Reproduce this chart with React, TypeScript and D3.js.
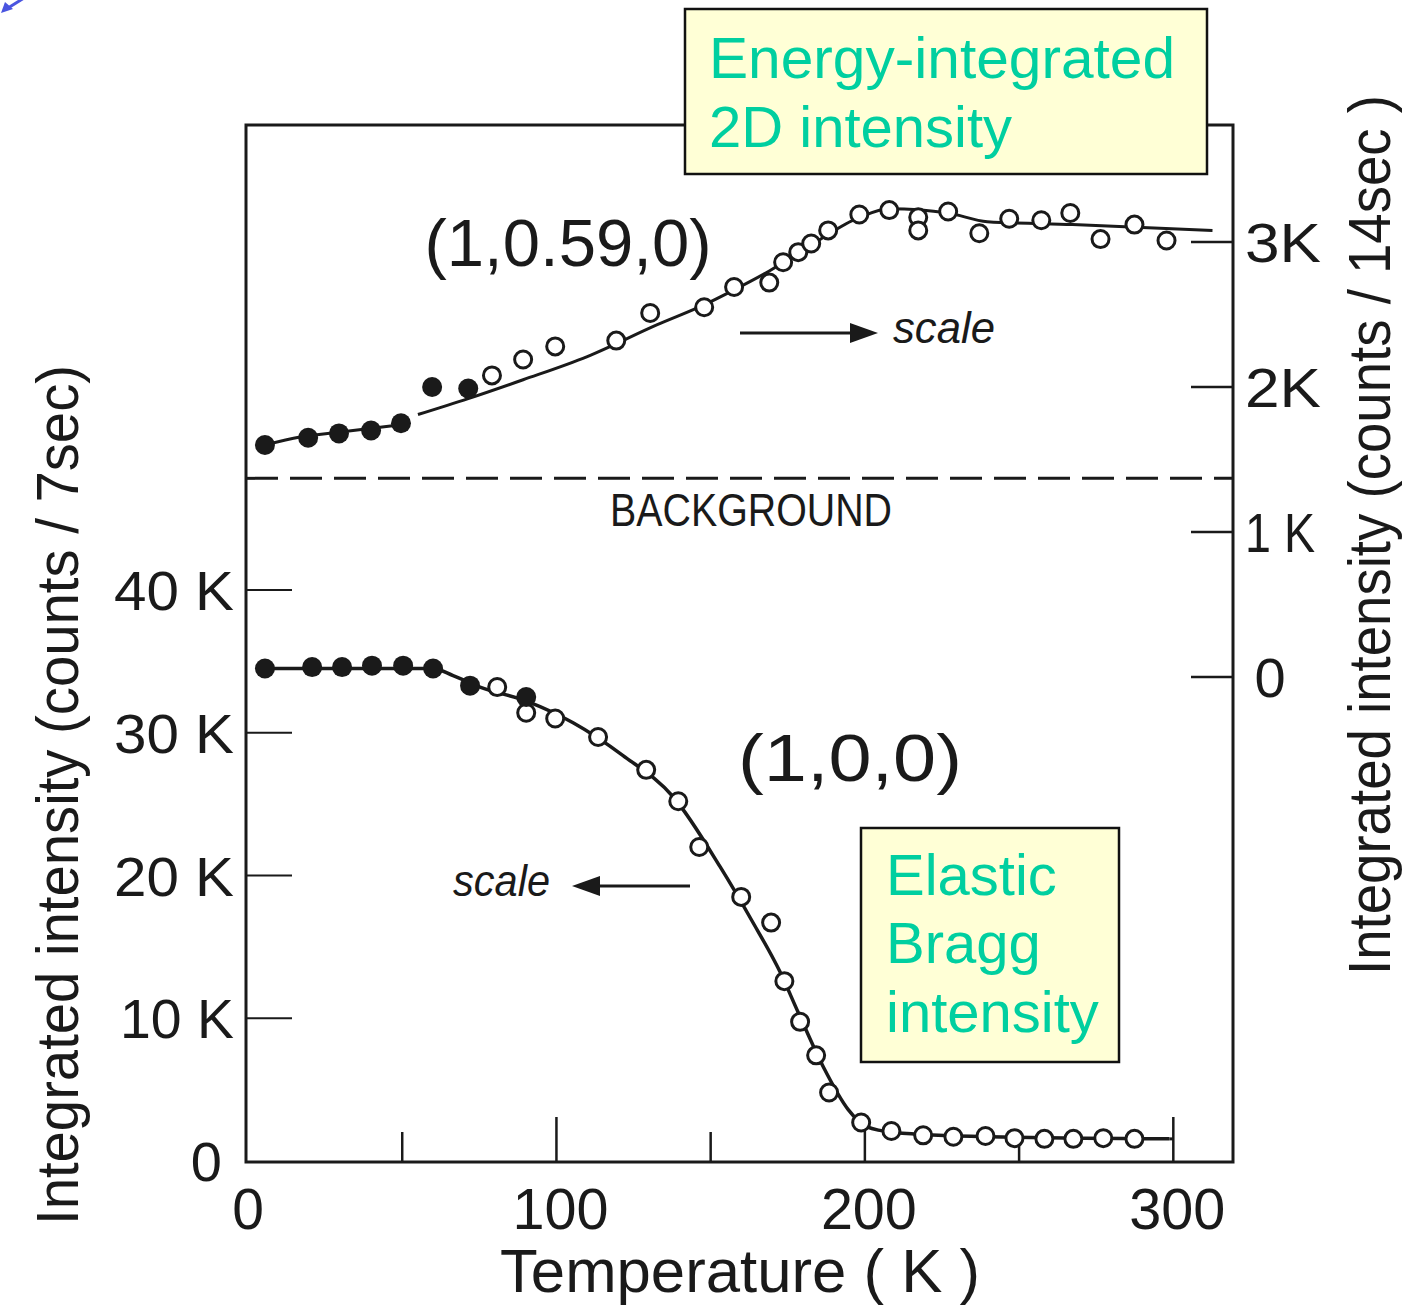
import React from "react";
import * as d3 from "d3";

// ---------- data ----------
// x axis: temperature (K)
const xLabelTicks = [0, 100, 200, 300];
const xMarkTicks = [50, 100, 150, 200, 250, 300];
// left axis: Bragg intensity, thousands of counts / 7 sec
const leftTicks = [0, 10, 20, 30, 40];
// right axis: 2D intensity, thousands of counts / 14 sec
const rightTicks = [0, 1, 2, 3];
const backgroundLevel = 1.37; // right-axis units

// (1,0.59,0) energy-integrated 2D intensity (right axis) [T, kcounts]
const upperFilled: [number, number][] = [
  [5.5, 1.6], [19.5, 1.65], [29.5, 1.68], [39.9, 1.7], [49.6, 1.75], [59.7, 2.0], [71.4, 1.99],
];
const upperOpen: [number, number][] = [
  [79.1, 2.08], [89.2, 2.19], [99.6, 2.28], [119.4, 2.32], [130.4, 2.51], [147.9, 2.55],
  [157.6, 2.69], [169, 2.72], [173.5, 2.86], [178.4, 2.93], [182.6, 2.99], [188.1, 3.08],
  [198.2, 3.19], [207.9, 3.22], [217.3, 3.17], [217.3, 3.08], [227, 3.21], [237.1, 3.06],
  [246.8, 3.16], [257.2, 3.15], [266.6, 3.2], [276.4, 3.02], [287.4, 3.12], [297.8, 3.01],
];
const upperFitLow: [number, number][] = [
  [5.5, 1.6], [16.9, 1.655], [30, 1.69], [49.6, 1.74],
];
const upperFitHigh: [number, number][] = [
  [55.1, 1.81], [71.4, 1.92], [89.2, 2.05], [110, 2.21], [132.7, 2.43], [148.2, 2.57],
  [157.6, 2.67], [169, 2.8], [182.6, 2.98], [198.2, 3.17], [208, 3.23], [227, 3.2],
  [239.7, 3.14], [267.3, 3.12], [312.7, 3.08],
];

// (1,0,0) elastic Bragg intensity (left axis) [T, kcounts]
const lowerFilled: [number, number][] = [
  [5.5, 34.5], [20.8, 34.6], [30.5, 34.6], [40.2, 34.7], [50.3, 34.7], [60.0, 34.5], [72.0, 33.3], [90.2, 32.5],
];
const lowerOpen: [number, number][] = [
  [80.8, 33.2], [90.2, 31.4], [99.6, 31.0], [113.5, 29.7], [129.1, 27.4], [139.5, 25.2],
  [146.3, 22.0], [159.9, 18.5], [169.6, 16.7], [173.9, 12.6], [179.0, 9.75], [184.2, 7.4],
  [188.4, 4.8], [198.8, 2.7], [208.6, 2.1], [218.9, 1.8], [228.7, 1.7], [239.1, 1.75],
  [248.5, 1.6], [258.2, 1.55], [267.6, 1.55], [277.3, 1.6], [287.4, 1.55],
];
const lowerFit: [number, number][] = [
  [5.5, 34.5], [60, 34.5], [66.5, 34.0], [75.2, 33.2], [90.5, 32.2], [105.4, 30.7],
  [121.6, 28.4], [137.9, 25.5], [153.1, 20.6], [163.2, 16.9], [172.6, 13.2], [178.4, 10.4],
  [186.5, 6.6], [194.6, 3.6], [200.5, 2.4], [209.5, 2.0], [240, 1.7], [298.7, 1.55],
];

const ink = "#1a1a1a";
const teal = "#00cfa0";
const fontMain = "'Liberation Sans', Arial, Helvetica, sans-serif";

export default function App() {
  const W = 1408, H = 1305;
  const x = d3.scaleLinear().domain([0, 320]).range([248, 1235]);
  const yL = d3.scaleLinear().domain([0, 40]).range([1161, 590]);
  const yR = d3.scaleLinear().domain([0, 3]).range([677, 242]);

  const frameL = x(0) - 2, frameR = x(320) - 2, frameT = 125, frameB = yL(0) + 1;

  const lineR = d3.line<[number, number]>().x(d => x(d[0])).y(d => yR(d[1])).curve(d3.curveMonotoneX);
  const lineL = d3.line<[number, number]>().x(d => x(d[0])).y(d => yL(d[1])).curve(d3.curveMonotoneX);

  return (
    <svg width={W} height={H} viewBox={`0 0 ${W} ${H}`}
      style={{ position: "absolute", left: 0, top: 0, display: "block", background: "#fff" }}>
      {/* blue arrow top-left */}
      <g fill="#4a55e0" stroke="#4a55e0">
        <line x1={24} y1={-2} x2={8} y2={8} strokeWidth={3} />
        <path d="M1,13 L5,2 L13,9 Z" stroke="none" />
      </g>

      {/* frame */}
      <rect x={frameL} y={frameT} width={frameR - frameL} height={frameB - frameT}
        fill="none" stroke={ink} strokeWidth={3} />

      {/* left ticks */}
      {leftTicks.filter(t => t > 0).map(t => (
        <line key={"lt" + t} x1={frameL} x2={frameL + 46} y1={yL(t)} y2={yL(t)} stroke={ink} strokeWidth={2} />
      ))}
      {leftTicks.map(t => (
        <text key={"ll" + t} x={t === 0 ? 222 : 234} y={yL(t)} dy="0.36em" textAnchor="end"
          fontFamily={fontMain} fontSize={56} fill={ink}
          textLength={t === 0 ? undefined : (t === 10 ? 114 : 120)} lengthAdjust="spacingAndGlyphs">
          {t === 0 ? "0" : `${t} K`}
        </text>
      ))}

      {/* right ticks */}
      {rightTicks.map(t => (
        <line key={"rt" + t} x1={frameR - 42} x2={frameR} y1={yR(t)} y2={yR(t)} stroke={ink} strokeWidth={2.5} />
      ))}
      {rightTicks.map(t => (
        <text key={"rl" + t} x={t === 0 ? 1270 : 1245} y={yR(t)} dy="0.36em" textAnchor={t === 0 ? "middle" : "start"}
          fontFamily={fontMain} fontSize={56} fill={ink}
          textLength={t === 0 ? undefined : (t === 1 ? 70 : 76)} lengthAdjust="spacingAndGlyphs">
          {t === 0 ? "0" : t === 1 ? "1 K" : `${t}K`}
        </text>
      ))}

      {/* bottom ticks */}
      {xMarkTicks.map(t => (
        <line key={"bt" + t} x1={x(t)} x2={x(t)} y1={frameB} y2={frameB - (t % 100 === 0 ? 45 : 30)} stroke={ink} strokeWidth={2.5} />
      ))}
      {xLabelTicks.map(t => (
        <text key={"bl" + t} x={x(t) + (t === 0 ? 0 : 4)} y={1208} dy="0.36em" textAnchor="middle"
          fontFamily={fontMain} fontSize={57} fill={ink}
          textLength={t === 0 ? undefined : 96} lengthAdjust="spacingAndGlyphs">
          {t}
        </text>
      ))}

      {/* axis titles */}
      <text x={740} y={1292} textAnchor="middle" fontFamily={fontMain} fontSize={62} fill={ink}
        textLength={480} lengthAdjust="spacingAndGlyphs">Temperature ( K )</text>
      <text transform="translate(78,795) rotate(-90)" textAnchor="middle" fontFamily={fontMain} fontSize={60} fill={ink}
        textLength={860} lengthAdjust="spacingAndGlyphs">Integrated intensity (counts / 7sec)</text>
      <text transform="translate(1390,535) rotate(-90)" textAnchor="middle" fontFamily={fontMain} fontSize={60} fill={ink}
        textLength={880} lengthAdjust="spacingAndGlyphs">Integrated intensity (counts / 14sec )</text>

      {/* background dashed line */}
      <line x1={frameL} x2={frameR} y1={yR(backgroundLevel)} y2={yR(backgroundLevel)}
        stroke={ink} strokeWidth={3} strokeDasharray="32 12" />
      <text x={751} y={526} textAnchor="middle" fontFamily={fontMain} fontSize={46} fill={ink}
        textLength={282} lengthAdjust="spacingAndGlyphs">BACKGROUND</text>

      {/* fits */}
      <path d={lineR(upperFitLow) || ""} fill="none" stroke={ink} strokeWidth={3} />
      <path d={lineR(upperFitHigh) || ""} fill="none" stroke={ink} strokeWidth={3} />
      <path d={lineL(lowerFit) || ""} fill="none" stroke={ink} strokeWidth={3.5} />
      <line x1={x(298.7)} x2={x(300)} y1={yL(1.55)} y2={yL(1.55)} stroke={ink} strokeWidth={3} />

      {/* points */}
      {upperOpen.map((d, i) => (
        <circle key={"uo" + i} cx={x(d[0])} cy={yR(d[1])} r={8.5} fill="#fff" stroke={ink} strokeWidth={3} />
      ))}
      {upperFilled.map((d, i) => (
        <circle key={"uf" + i} cx={x(d[0])} cy={yR(d[1])} r={10} fill={ink} />
      ))}
      {lowerOpen.map((d, i) => (
        <circle key={"lo" + i} cx={x(d[0])} cy={yL(d[1])} r={8.5} fill="#fff" stroke={ink} strokeWidth={3} />
      ))}
      {lowerFilled.map((d, i) => (
        <circle key={"lf" + i} cx={x(d[0])} cy={yL(d[1])} r={10} fill={ink} />
      ))}

      {/* reflection labels */}
      <text x={568} y={266} textAnchor="middle" fontFamily={fontMain} fontSize={66} fill={ink}
        textLength={287} lengthAdjust="spacingAndGlyphs">(1,0.59,0)</text>
      <text x={850} y={781} textAnchor="middle" fontFamily={fontMain} fontSize={66} fill={ink}
        textLength={224} lengthAdjust="spacingAndGlyphs">(1,0,0)</text>

      {/* scale arrows */}
      <line x1={740} x2={856} y1={333} y2={333} stroke={ink} strokeWidth={3} />
      <path d="M878,333 L850,323 L850,343 Z" fill={ink} />
      <text x={893} y={343} fontFamily={fontMain} fontStyle="italic" fontSize={44} fill={ink}
        textLength={102} lengthAdjust="spacingAndGlyphs">scale</text>

      <line x1={690} x2={594} y1={886} y2={886} stroke={ink} strokeWidth={3} />
      <path d="M572,886 L600,876 L600,896 Z" fill={ink} />
      <text x={453} y={896} fontFamily={fontMain} fontStyle="italic" fontSize={44} fill={ink}
        textLength={97} lengthAdjust="spacingAndGlyphs">scale</text>

      {/* annotation boxes */}
      <rect x={685} y={9} width={522} height={165} fill="#ffffd6" stroke="#111" strokeWidth={2.5} />
      <text x={709} y={78} fontFamily={fontMain} fontSize={58} fill={teal}
        textLength={466} lengthAdjust="spacingAndGlyphs">Energy-integrated</text>
      <text x={709} y={147} fontFamily={fontMain} fontSize={58} fill={teal}>2D intensity</text>

      <rect x={861} y={828} width={258} height={234} fill="#ffffd6" stroke="#111" strokeWidth={2.5} />
      <text x={886} y={895} fontFamily={fontMain} fontSize={58} fill={teal}>Elastic</text>
      <text x={886} y={963} fontFamily={fontMain} fontSize={58} fill={teal}>Bragg</text>
      <text x={886} y={1032} fontFamily={fontMain} fontSize={58} fill={teal}>intensity</text>
    </svg>
  );
}
